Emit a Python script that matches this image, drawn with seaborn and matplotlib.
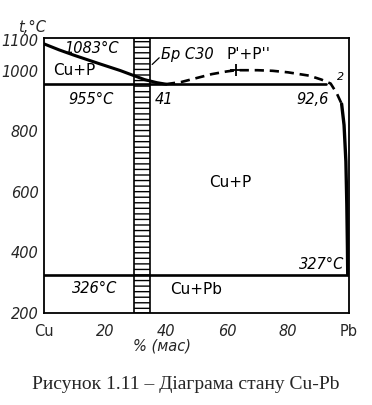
import numpy as np
import pandas as pd
import seaborn as sns
import matplotlib.pyplot as plt

# liquidus on the copper side (solid line)
liq_cu_pb = [0, 5, 10, 18, 25, 29, 33, 37, 40]
liq_cu_t = [1088, 1068, 1050, 1023, 1000, 985, 970, 960, 955]

# miscibility gap P'+P'' (dashed)
gap_pb = [40, 45, 50, 55, 60, 63, 70, 75, 80, 87, 91, 94, 96, 97.6]
gap_t = [955, 962, 975, 988, 997, 1001, 1001, 999, 994, 983, 970, 957, 925, 890]

# liquidus on the lead side (solid)
liq_pb_pb = [97.6, 98.4, 99.0, 99.3, 99.5, 99.6]
liq_pb_t = [890, 820, 700, 560, 420, 327]

# horizontals: monotectic 955 (0..92.6) and eutectic 326 (0..100)
mono_pb = [0, 92.6]
mono_t = [955, 955]
eut_pb = [0, 100]
eut_t = [326, 326]

crit_pb, crit_t = 63, 1001
bronze = [29.6, 34.8]   # Бр С30

x_ticks = [0, 20, 40, 60, 80, 100]
x_labels = ["Cu", "20", "40", "60", "80", "Pb"]
y_ticks = [200, 400, 600, 800, 1000, 1100]

sns.set_theme(style="white")
plt.rcParams['font.family'] = ['DejaVu Sans']
plt.rcParams['hatch.linewidth'] = 1.0

fig = plt.figure(figsize=(3.72, 4.05), dpi=100)
ax = fig.add_axes([0.118, 0.227, 0.82, 0.679])

k = dict(color="black", ax=ax, sort=False, estimator=None, legend=False)
sns.lineplot(x=liq_cu_pb, y=liq_cu_t, lw=2.2, **k)
sns.lineplot(x=gap_pb, y=gap_t, lw=1.9, dashes=False, **k)
ax.lines[-1].set_linestyle((0, (3.5, 2.2)))
sns.lineplot(x=liq_pb_pb, y=liq_pb_t, lw=2.4, **k)
sns.lineplot(x=mono_pb, y=mono_t, lw=1.9, **k)
sns.lineplot(x=eut_pb, y=eut_t, lw=1.9, **k)

ax.axvspan(bronze[0], bronze[1], facecolor="white", edgecolor="black",
           hatch="---", lw=1.2, zorder=1.5)
ax.plot(crit_pb, crit_t, marker="+", ms=9, mew=1.3, color="black")

ax.set_xlim(0, 100)
ax.set_ylim(200, 1107)
ax.set_xticks(x_ticks)
ax.set_xticklabels(x_labels)
ax.set_yticks(y_ticks)
ax.tick_params(direction="in", length=8, width=1.2, color="black",
               labelsize=10.5, pad=4)
ax.tick_params(axis="x", pad=8)
for lab in ax.get_xticklabels()[1:-1] + ax.get_yticklabels():
    lab.set_style("italic")
for sp in ax.spines.values():
    sp.set_color("black")
    sp.set_linewidth(1.3)
ax.grid(False)

txt = dict(color="black", fontsize=11)
it = dict(color="black", fontsize=10.5, style="italic")
ax.text(15.5, 1073, "1083°C", ha="center", va="center", **it)
ax.text(3, 1000, "Cu+P", ha="left", va="center", **txt)
ax.text(15.5, 905, "955°C", ha="center", va="center", **it)
ax.text(39.5, 905, "41", ha="center", va="center", **it)
ax.text(88, 905, "92,6", ha="center", va="center", **it)
ax.text(97.2, 978, "2", ha="center", va="center", fontsize=8,
        style="italic", color="black")
ax.text(38.5, 1052, "Бр С30", ha="left", va="center", **it)
ax.plot([35.5, 37.8], [1020, 1042], color="black", lw=0.9)
ax.text(67, 1052, "P'+P''", ha="center", va="center", **txt)
ax.text(61, 630, "Cu+P", ha="center", va="center", **txt)
ax.text(98.5, 360, "327°C", ha="right", va="center", **it)
ax.text(16.5, 280, "326°C", ha="center", va="center", **it)
ax.text(50, 278, "Cu+Pb", ha="center", va="center", **txt)

fig.text(0.085, 0.922, "t,°C", fontsize=10.5, style="italic", ha="center")
fig.text(0.435, 0.135, "% (мас)", fontsize=10.5, style="italic", ha="center")
fig.text(0.5, 0.04, "Рисунок 1.11 – Діаграма стану Cu-Pb",
         family="Liberation Serif", fontsize=14, ha="center")

fig.savefig("out.png", dpi=100, facecolor="white")
